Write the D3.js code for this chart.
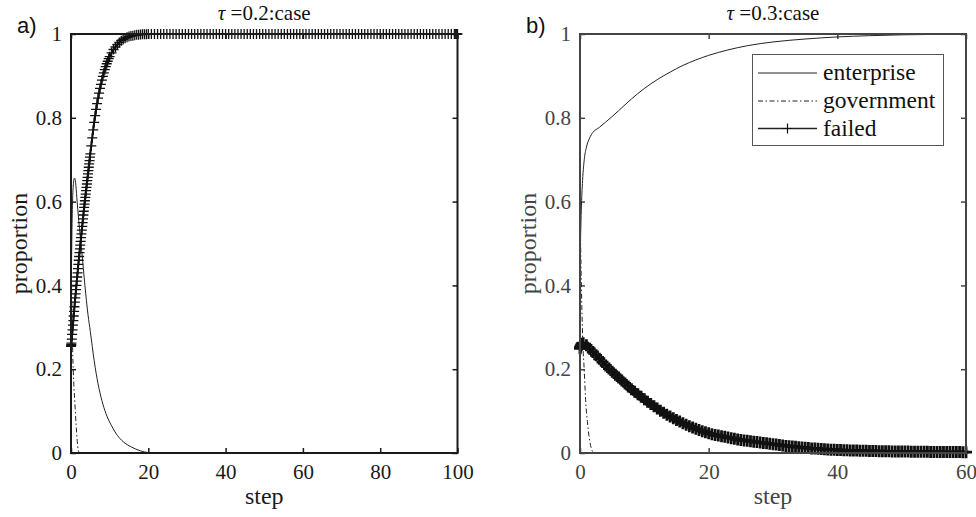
<!DOCTYPE html>
<html>
<head>
<meta charset="utf-8">
<script src="https://cdnjs.cloudflare.com/ajax/libs/d3/7.8.5/d3.min.js"></script>
<style>
  body { margin: 0; background: #fff; }
  svg text { font-family: "Liberation Serif", "DejaVu Serif", "Times New Roman", serif; }
  svg text.tag { font-family: "Liberation Sans", Arial, sans-serif; }
</style>
</head>
<body>
<svg id="chart" width="976" height="517"></svg>
<script>
// ---- panel a) tau = 0.2 ----
var aEntStep = [0, 0.2, 0.4, 0.6, 0.9, 1.2, 1.5, 2, 2.8, 3.6, 4.4, 5, 6, 7, 8, 9, 10.5, 12, 13.5, 15.5, 18, 20, 22, 100];
var aEntVal  = [0.3, 0.5, 0.6, 0.64, 0.656, 0.645, 0.61, 0.555, 0.48, 0.40, 0.33, 0.29, 0.22, 0.165, 0.125, 0.095, 0.065, 0.042, 0.027, 0.015, 0.005, 0.001, 0, 0];
var aGovStep = [0, 0.2, 0.43, 0.7, 1.0, 1.3, 1.6, 1.9, 2.2, 100];
var aGovVal  = [0.5, 0.37, 0.245, 0.17, 0.12, 0.07, 0.03, 0.006, 0, 0];
var aFailStep = [0, 0.01, 0.02, 0.04, 0.07, 0.1,
  0.2, 0.3, 0.4, 0.5, 0.6, 0.7, 0.8, 0.9, 1.0,
  1.1, 1.2, 1.3, 1.4, 1.5, 1.6, 1.7, 1.8, 1.9, 2.0,
  2.1, 2.2, 2.3, 2.4, 2.5, 2.6, 2.7, 2.8, 2.9, 3.0,
  3.1, 3.2, 3.3, 3.4, 3.5, 3.6, 3.7, 3.8, 3.9, 4.0,
  4.1, 4.2, 4.3, 4.4, 4.5, 4.6, 4.7, 4.8, 4.9, 5.0,
  5.25, 5.5, 5.75, 6, 6.25, 6.5, 6.75, 7, 7.25, 7.5, 7.75, 8,
  8.25, 8.5, 8.75, 9, 9.25, 9.5, 9.75, 10,
  10.5, 11, 11.5, 12, 12.5, 13, 13.5, 14, 14.5, 15,
  15.5, 16, 16.5, 17, 17.5, 18, 18.5, 19, 19.5, 20,
  20.8, 21.6, 22.4, 23.2, 24, 24.8, 25.6, 26.4, 27.2, 28,
  28.8, 29.6, 30.4, 31.2, 32, 32.8, 33.6, 34.4, 35.2, 36,
  36.8, 37.6, 38.4, 39.2, 40, 40.8, 41.6, 42.4, 43.2, 44,
  44.8, 45.6, 46.4, 47.2, 48, 48.8, 49.6, 50.4, 51.2, 52,
  52.8, 53.6, 54.4, 55.2, 56, 56.8, 57.6, 58.4, 59.2, 60,
  60.8, 61.6, 62.4, 63.2, 64, 64.8, 65.6, 66.4, 67.2, 68,
  68.8, 69.6, 70.4, 71.2, 72, 72.8, 73.6, 74.4, 75.2, 76,
  76.8, 77.6, 78.4, 79.2, 80, 80.8, 81.6, 82.4, 83.2, 84,
  84.8, 85.6, 86.4, 87.2, 88, 88.8, 89.6, 90.4, 91.2, 92,
  92.8, 93.6, 94.4, 95.2, 96, 96.8, 97.6, 98.4, 99.2, 99.4, 99.6, 99.8, 100];
var aFailVal = [0.255, 0.2552, 0.2555, 0.2562, 0.2585, 0.262,
  0.272, 0.283, 0.294, 0.305, 0.316, 0.327, 0.338, 0.349, 0.360,
  0.370, 0.380, 0.390, 0.400, 0.410, 0.420, 0.430, 0.440, 0.450, 0.460,
  0.469, 0.478, 0.487, 0.496, 0.505, 0.514, 0.523, 0.532, 0.541, 0.550,
  0.559, 0.568, 0.577, 0.586, 0.594, 0.602, 0.610, 0.618, 0.626, 0.634,
  0.642, 0.650, 0.658, 0.666, 0.674, 0.682, 0.690, 0.698, 0.706, 0.714,
  0.733, 0.752, 0.771, 0.789, 0.805, 0.820, 0.834, 0.847, 0.859, 0.870, 0.880, 0.890,
  0.899, 0.907, 0.915, 0.922, 0.929, 0.935, 0.941, 0.946,
  0.955, 0.963, 0.969, 0.975, 0.980, 0.984, 0.987, 0.990, 0.992, 0.994,
  0.995, 0.996, 0.997, 0.998, 0.9985, 0.999, 0.9993, 0.9995, 0.9997, 0.9998,
  1, 1, 1, 1, 1, 1, 1, 1, 1, 1,
  1, 1, 1, 1, 1, 1, 1, 1, 1, 1,
  1, 1, 1, 1, 1, 1, 1, 1, 1, 1,
  1, 1, 1, 1, 1, 1, 1, 1, 1, 1,
  1, 1, 1, 1, 1, 1, 1, 1, 1, 1,
  1, 1, 1, 1, 1, 1, 1, 1, 1, 1,
  1, 1, 1, 1, 1, 1, 1, 1, 1, 1,
  1, 1, 1, 1, 1, 1, 1, 1, 1, 1,
  1, 1, 1, 1, 1, 1, 1, 1, 1, 1,
  1, 1, 1, 1, 1, 1, 1, 1, 1, 1, 1, 1, 1];

// ---- panel b) tau = 0.3 ----
var bEntStep = [0, 0.2, 0.4, 0.7, 1, 1.5, 2, 3, 4, 5, 6, 8, 10, 12, 14, 16, 18, 20, 23, 26, 30, 35, 40, 45, 50, 55, 60];
var bEntVal  = [0.45, 0.58, 0.65, 0.705, 0.73, 0.752, 0.765, 0.777, 0.79, 0.803, 0.817, 0.845, 0.87, 0.891, 0.909, 0.925, 0.938, 0.949, 0.962, 0.972, 0.981, 0.988, 0.993, 0.996, 0.998, 0.999, 1.0];
var bGovStep = [0, 0.15, 0.3, 0.45, 0.65, 0.9, 1.15, 1.4, 1.65, 1.9, 2.2, 60];
var bGovVal  = [0.6, 0.45, 0.34, 0.26, 0.2, 0.12, 0.075, 0.04, 0.018, 0.005, 0, 0];
var bFailStep = [0, 0.05, 0.1, 0.2, 0.3, 0.5,
  1, 1.5, 2, 2.5, 3, 3.5, 4, 4.5, 5, 5.5, 6, 6.5, 7, 7.5, 8, 8.5, 9, 9.5, 10, 10.5,
  11, 11.5, 12, 12.5, 13, 13.5, 14, 14.5, 15, 15.5, 16, 16.5, 17, 17.5, 18, 18.5, 19, 19.5, 20, 20.5,
  21, 21.5, 22, 22.5, 23, 23.5, 24, 24.5, 25, 25.5, 26, 26.5, 27, 27.5, 28, 28.5, 29, 29.5, 30, 30.5,
  31, 31.5, 32, 32.5, 33, 33.5, 34, 34.5, 35, 35.5, 36, 36.5, 37, 37.5, 38, 38.5, 39, 39.5, 40, 40.5,
  41, 41.5, 42, 42.5, 43, 43.5, 44, 44.5, 45, 45.5, 46, 46.5, 47, 47.5, 48, 48.5, 49, 49.5, 50, 50.5,
  51, 51.5, 52, 52.5, 53, 53.5, 54, 54.5, 55, 55.5, 56, 56.5, 57, 57.5, 58, 58.5, 59, 59.5, 60];
var bFailVal = [0.250, 0.252, 0.255, 0.258, 0.261, 0.262,
  0.257, 0.249, 0.241, 0.233, 0.225, 0.217, 0.209, 0.2015, 0.194, 0.187, 0.180, 0.173, 0.166, 0.159, 0.152, 0.146, 0.140, 0.134, 0.128, 0.1225,
  0.117, 0.1115, 0.106, 0.101, 0.096, 0.0915, 0.087, 0.083, 0.079, 0.075, 0.071, 0.0675, 0.064, 0.061, 0.058, 0.055, 0.052, 0.0495, 0.047, 0.045,
  0.043, 0.0415, 0.040, 0.0385, 0.037, 0.0355, 0.034, 0.0325, 0.031, 0.030, 0.029, 0.028, 0.027, 0.026, 0.025, 0.024, 0.023, 0.022, 0.021, 0.020,
  0.019, 0.018, 0.017, 0.0162, 0.0155, 0.0147, 0.014, 0.0132, 0.0125, 0.0117, 0.011, 0.0105, 0.010, 0.0095, 0.009, 0.0085, 0.008, 0.0076, 0.0073, 0.007,
  0.0067, 0.0064, 0.0062, 0.0059, 0.0057, 0.0055, 0.0053, 0.0051, 0.0049, 0.0047, 0.0046, 0.0044, 0.0043, 0.0041, 0.004, 0.0038, 0.0037, 0.0036, 0.0035, 0.0034,
  0.0033, 0.0032, 0.0031, 0.003, 0.0029, 0.0028, 0.0027, 0.0026, 0.0026, 0.0025, 0.0024, 0.0023, 0.0023, 0.0022, 0.0022, 0.0021, 0.0021, 0.002, 0.002];

var yTicks = [0, 0.2, 0.4, 0.6, 0.8, 1];
var yTickLabels = ["0", "0.2", "0.4", "0.6", "0.8", "1"];
var aXTicks = [0, 20, 40, 60, 80, 100];
var bXTicks = [0, 20, 40, 60];
var legendNames = ["enterprise", "government", "failed"];

var svg = d3.select("#chart");
var DASHDOT = "5,2.5,1.5,2.5";

function plus(x, y, s) {
  return "M" + (x - s) + "," + y + "h" + (2 * s) + "M" + x + "," + (y - s) + "v" + (2 * s);
}

function drawPanel(p) {
  var x = d3.scaleLinear().domain([0, p.xMax]).range([p.left, p.right]);
  var y = d3.scaleLinear().domain([0, 1]).range([p.bottom, p.top]);
  var g = svg.append("g");
  var line = d3.line().x(d => x(d[0])).y(d => y(d[1])).curve(d3.curveMonotoneX);

  // axes, ticks pointing inward on all four sides
  var ax = [
    [d3.axisBottom(x).tickValues(p.xTicks).tickFormat(d3.format("d")), "translate(0," + p.bottom + ")", 11],
    [d3.axisTop(x).tickValues(p.xTicks).tickFormat(""), "translate(0," + p.top + ")", 0],
    [d3.axisLeft(y).tickValues(yTicks).tickFormat((d, i) => yTickLabels[i]), "translate(" + p.left + ",0)", 9],
    [d3.axisRight(y).tickValues(yTicks).tickFormat(""), "translate(" + p.right + ",0)", 0]
  ];
  ax.forEach(function (a) {
    var ag = g.append("g").attr("transform", a[1])
      .call(a[0].tickSizeInner(-5).tickSizeOuter(0).tickPadding(a[2]));
    ag.attr("font-size", 21);
    ag.select(".domain").remove();
    ag.selectAll("line").attr("stroke", p.axisColor).attr("stroke-width", 1.5);
    ag.selectAll("text").attr("fill", p.axisColor);
  });

  // series
  g.append("path").datum(d3.zip(p.entStep, p.entVal)).attr("d", line)
    .attr("fill", "none").attr("stroke", "#222").attr("stroke-width", 1);
  g.append("path").datum(d3.zip(p.govStep, p.govVal)).attr("d", line)
    .attr("fill", "none").attr("stroke", "#222").attr("stroke-width", 1)
    .attr("stroke-dasharray", DASHDOT);
  var fail = d3.zip(p.failStep, p.failVal);
  g.append("path").datum(fail).attr("d", line)
    .attr("fill", "none").attr("stroke", "#111").attr("stroke-width", 2);
  g.append("g").selectAll("path").data(fail).join("path")
    .attr("d", d => plus(x(d[0]), y(d[1]), p.markerSize))
    .attr("fill", "none").attr("stroke", "#111").attr("stroke-width", p.markerWidth);

  // box
  g.append("rect").attr("x", p.left).attr("y", p.top)
    .attr("width", p.right - p.left).attr("height", p.bottom - p.top)
    .attr("fill", "none").attr("stroke", p.axisColor).attr("stroke-width", 2);

  // labels
  var cx = (p.left + p.right) / 2;
  g.append("text").attr("x", cx).attr("y", 504).attr("text-anchor", "middle")
    .attr("fill", p.axisColor).attr("font-size", 24).text("step");
  g.append("text").attr("transform", "translate(" + (p.left - 44) + "," + ((p.top + p.bottom) / 2) + ") rotate(-90)")
    .attr("text-anchor", "middle").attr("fill", p.axisColor).attr("font-size", 24).text("proportion");
  var t = g.append("text").attr("x", cx).attr("y", 20).attr("text-anchor", "middle")
    .attr("fill", "#111").attr("font-size", 21);
  t.append("tspan").attr("font-style", "italic").text("\u03c4");
  t.append("tspan").text(" =" + p.tau + ":case");
  g.append("text").attr("class", "tag").attr("x", p.tagX).attr("y", 33).attr("fill", "#111")
    .attr("font-size", 22).text(p.tag);
}

drawPanel({
  left: 71, right: 457.5, top: 34, bottom: 453, xMax: 100, xTicks: aXTicks,
  axisColor: "#1a1a1a", markerSize: 5, markerWidth: 1.3, tau: "0.2", tag: "a)", tagX: 17,
  entStep: aEntStep, entVal: aEntVal, govStep: aGovStep, govVal: aGovVal,
  failStep: aFailStep, failVal: aFailVal
});
drawPanel({
  left: 580, right: 966, top: 34, bottom: 453, xMax: 60, xTicks: bXTicks,
  axisColor: "#444", markerSize: 6, markerWidth: 2.8, tau: "0.3", tag: "b)", tagX: 526,
  entStep: bEntStep, entVal: bEntVal, govStep: bGovStep, govVal: bGovVal,
  failStep: bFailStep, failVal: bFailVal
});

// legend (panel b)
var lg = svg.append("g");
lg.append("rect").attr("x", 752.5).attr("y", 54.5).attr("width", 191).attr("height", 91)
  .attr("fill", "#fff").attr("stroke", "#555").attr("stroke-width", 1);
var rowY = [73, 101, 128.5];
legendNames.forEach(function (name, i) {
  var l = lg.append("line").attr("x1", 758).attr("x2", 817).attr("y1", rowY[i]).attr("y2", rowY[i])
    .attr("stroke", "#222").attr("stroke-width", i == 2 ? 1.5 : 1);
  if (i == 1) l.attr("stroke-dasharray", DASHDOT);
  if (i == 2) lg.append("path").attr("d", plus(787.5, rowY[i], 5)).attr("stroke", "#111").attr("stroke-width", 1.2);
  lg.append("text").attr("x", 823).attr("y", rowY[i] + 7).attr("fill", "#111")
    .attr("font-size", 23.5).text(name);
});
</script>
</body>
</html>
